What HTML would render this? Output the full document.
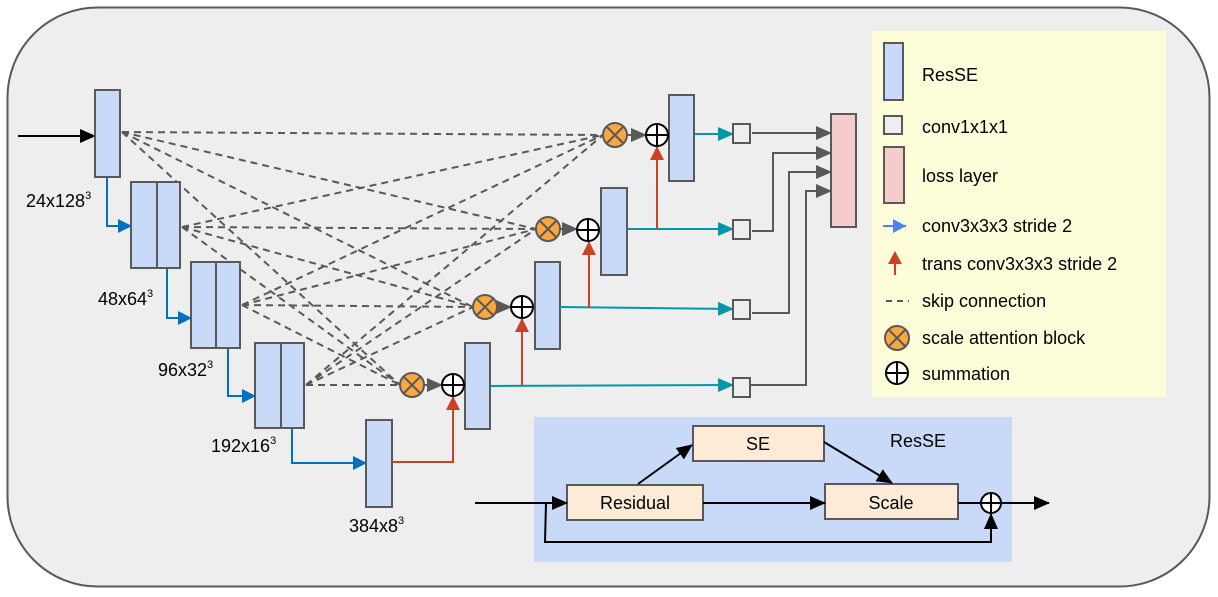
<!DOCTYPE html>
<html><head><meta charset="utf-8"><style>
html,body{margin:0;padding:0;background:#fff;}
svg{display:block;}
text{font-family:"Liberation Sans",Arial,sans-serif;fill:#000;}
</style></head><body>
<svg width="1218" height="597" viewBox="0 0 1218 597" xmlns="http://www.w3.org/2000/svg">
<defs>
<marker id="ab" markerWidth="10" markerHeight="10" refX="9" refY="5" orient="auto" markerUnits="userSpaceOnUse"><path d="M0,0 L10,5 L0,10 z" fill="#000"/></marker>
<marker id="abig" markerWidth="16" markerHeight="14" refX="15" refY="7" orient="auto" markerUnits="userSpaceOnUse"><path d="M0,0 L16,7 L0,14 z" fill="#000"/></marker>
<marker id="ablue" markerWidth="14" markerHeight="14" refX="13" refY="7" orient="auto" markerUnits="userSpaceOnUse"><path d="M0,0 L14,7 L0,14 z" fill="#0070c0"/></marker>
<marker id="ateal" markerWidth="16" markerHeight="14" refX="15" refY="7" orient="auto" markerUnits="userSpaceOnUse"><path d="M0,0 L16,7 L0,14 z" fill="#0097a7"/></marker>
<marker id="ared" markerWidth="14" markerHeight="14" refX="13" refY="7" orient="auto" markerUnits="userSpaceOnUse"><path d="M0,0 L14,7 L0,14 z" fill="#cc4125"/></marker>
<marker id="agray" markerWidth="16" markerHeight="14" refX="15" refY="7" orient="auto" markerUnits="userSpaceOnUse"><path d="M0,0 L16,7 L0,14 z" fill="#595959"/></marker>
</defs>
<rect x="7.5" y="7.5" width="1202" height="579" rx="90" fill="#eeeeee" stroke="#595959" stroke-width="2"/>

<!-- skip connections -->
<g stroke="#595959" stroke-width="2" stroke-dasharray="7,5" fill="none">
<line x1="122" y1="132" x2="603" y2="135"/><line x1="122" y1="132" x2="536" y2="229"/><line x1="122" y1="132" x2="473" y2="307"/><line x1="122" y1="132" x2="400" y2="385"/>
<line x1="182" y1="227" x2="603" y2="135"/><line x1="182" y1="227" x2="536" y2="229"/><line x1="182" y1="227" x2="473" y2="307"/><line x1="182" y1="227" x2="400" y2="385"/>
<line x1="242" y1="305" x2="603" y2="135"/><line x1="242" y1="305" x2="536" y2="229"/><line x1="242" y1="305" x2="473" y2="307"/><line x1="242" y1="305" x2="400" y2="385"/>
<line x1="306" y1="385" x2="603" y2="135"/><line x1="306" y1="385" x2="536" y2="229"/><line x1="306" y1="385" x2="473" y2="307"/><line x1="306" y1="385" x2="400" y2="385"/>
</g>

<!-- input -->
<line x1="18" y1="136" x2="95" y2="136" stroke="#000" stroke-width="2" marker-end="url(#abig)"/>

<!-- encoder blocks -->
<g fill="#c9daf8" stroke="#595959" stroke-width="2">
<rect x="95" y="90" width="25" height="87"/>
<rect x="131" y="182" width="49" height="86"/><line x1="157" y1="182" x2="157" y2="268"/>
<rect x="191" y="262" width="49" height="86"/><line x1="216" y1="262" x2="216" y2="348"/>
<rect x="255" y="343" width="49" height="85"/><line x1="281" y1="343" x2="281" y2="428"/>
<rect x="366" y="420" width="26" height="87"/>
<rect x="669" y="95" width="25" height="86"/>
<rect x="601" y="188" width="26" height="87"/>
<rect x="535" y="262" width="25" height="87"/>
<rect x="465" y="343" width="25" height="86"/>
</g>

<!-- blue downsampling -->
<g stroke="#0070c0" stroke-width="2" fill="none">
<polyline points="107,178 107,226 131,226" marker-end="url(#ablue)"/>
<polyline points="167,269 167,318 191,318" marker-end="url(#ablue)"/>
<polyline points="228,349 228,396 255,396" marker-end="url(#ablue)"/>
<polyline points="292,429 292,463 366,463" marker-end="url(#ablue)"/>
</g>

<!-- labels -->
<g font-size="18">
<text x="26" y="207">24x128<tspan font-size="11" dy="-8">3</tspan></text>
<text x="98" y="305">48x64<tspan font-size="11" dy="-8">3</tspan></text>
<text x="158" y="376">96x32<tspan font-size="11" dy="-8">3</tspan></text>
<text x="211" y="452">192x16<tspan font-size="11" dy="-8">3</tspan></text>
<text x="349" y="532">384x8<tspan font-size="11" dy="-8">3</tspan></text>
</g>

<!-- teal lines -->
<g stroke="#0097a7" stroke-width="2" fill="none">
<line x1="694" y1="134" x2="733" y2="134" marker-end="url(#ateal)"/>
<line x1="627" y1="229" x2="733" y2="229" marker-end="url(#ateal)"/>
<line x1="560" y1="307" x2="733" y2="309" marker-end="url(#ateal)"/>
<line x1="490" y1="386" x2="733" y2="385" marker-end="url(#ateal)"/>
</g>

<!-- red upsampling -->
<g stroke="#cc4125" stroke-width="2" fill="none">
<polyline points="392,462 453,462 453,397" marker-end="url(#ared)"/>
<line x1="522" y1="385" x2="522" y2="319" marker-end="url(#ared)"/>
<line x1="589" y1="308" x2="589" y2="242" marker-end="url(#ared)"/>
<line x1="657" y1="229" x2="657" y2="147" marker-end="url(#ared)"/>
</g>

<!-- attention & sum -->
<g>
<g stroke="#595959" stroke-width="2" fill="none">
<line x1="627" y1="135" x2="646" y2="135" marker-end="url(#agray)"/>
<line x1="560" y1="229" x2="577" y2="229" marker-end="url(#agray)"/>
<line x1="497" y1="307" x2="511" y2="307" marker-end="url(#agray)"/>
<line x1="424" y1="385" x2="442" y2="385" marker-end="url(#agray)"/>
</g>
<g id="att">
<circle cx="615" cy="135" r="12" fill="#f9a73e" stroke="#595959" stroke-width="2"/>
<path d="M607,127 L623,143 M623,127 L607,143" stroke="#595959" stroke-width="2"/>
<circle cx="548" cy="229" r="12" fill="#f9a73e" stroke="#595959" stroke-width="2"/>
<path d="M540,221 L556,237 M556,221 L540,237" stroke="#595959" stroke-width="2"/>
<circle cx="485" cy="307" r="12" fill="#f9a73e" stroke="#595959" stroke-width="2"/>
<path d="M477,299 L493,315 M493,299 L477,315" stroke="#595959" stroke-width="2"/>
<circle cx="412" cy="385" r="12" fill="#f9a73e" stroke="#595959" stroke-width="2"/>
<path d="M404,377 L420,393 M420,377 L404,393" stroke="#595959" stroke-width="2"/>
</g>
<g fill="#fff" stroke="#000" stroke-width="2">
<circle cx="657" cy="135" r="11"/><path d="M646,135 H668 M657,124 V146"/>
<circle cx="588" cy="230" r="11"/><path d="M577,230 H599 M588,219 V241"/>
<circle cx="522" cy="307" r="11"/><path d="M511,307 H533 M522,296 V318"/>
<circle cx="453" cy="385" r="11"/><path d="M442,385 H464 M453,374 V396"/>
</g>
</g>

<!-- conv boxes -->
<g fill="#eeeeee" stroke="#595959" stroke-width="2">
<rect x="733" y="124" width="17" height="19"/>
<rect x="733" y="220" width="17" height="19"/>
<rect x="733" y="300" width="17" height="19"/>
<rect x="733" y="378" width="17" height="19"/>
</g>
<!-- to loss -->
<g stroke="#595959" stroke-width="2" fill="none">
<line x1="752" y1="133" x2="831" y2="133" marker-end="url(#agray)"/>
<polyline points="752,231 773,231 773,153 831,153" marker-end="url(#agray)"/>
<polyline points="752,313 789,313 789,172 831,172" marker-end="url(#agray)"/>
<polyline points="750,385 806,385 806,191 831,191" marker-end="url(#agray)"/>
</g>
<rect x="831" y="114" width="25" height="113" fill="#f4cccc" stroke="#595959" stroke-width="2"/>

<!-- legend -->
<rect x="872" y="31" width="294" height="366" fill="#fdfdd9"/>
<rect x="884" y="43" width="19" height="57" fill="#c9daf8" stroke="#595959" stroke-width="2"/>
<rect x="884" y="116" width="18" height="18" fill="#eeeeee" stroke="#595959" stroke-width="2"/>
<rect x="884" y="147" width="20" height="56" fill="#f4cccc" stroke="#595959" stroke-width="2"/>
<line x1="883" y1="226" x2="906" y2="226" stroke="#4a86e8" stroke-width="2"/><path d="M893,219 L906,226 L893,233 z" fill="#4a86e8"/>
<line x1="895" y1="275" x2="895" y2="262" stroke="#cc4125" stroke-width="2"/><path d="M888,264 L895,251 L902,264 z" fill="#cc4125"/>
<line x1="886" y1="301" x2="909" y2="301" stroke="#595959" stroke-width="2" stroke-dasharray="6,5"/>
<circle cx="897" cy="338" r="12" fill="#f9a73e" stroke="#595959" stroke-width="2"/>
<path d="M889,330 L905,346 M905,330 L889,346" stroke="#595959" stroke-width="2"/>
<circle cx="897" cy="373" r="11" fill="#fff" stroke="#000" stroke-width="2"/><path d="M886,373 H908 M897,362 V384" stroke="#000" stroke-width="2"/>
<g font-size="18">
<text x="922" y="81">ResSE</text>
<text x="922" y="133">conv1x1x1</text>
<text x="922" y="182">loss layer</text>
<text x="922" y="232">conv3x3x3 stride 2</text>
<text x="922" y="270">trans conv3x3x3 stride 2</text>
<text x="922" y="307">skip connection</text>
<text x="922" y="344">scale attention block</text>
<text x="922" y="380">summation</text>
</g>

<!-- ResSE detail -->
<rect x="534" y="417" width="478" height="145" fill="#c9daf8"/>
<text x="890" y="447" font-size="18">ResSE</text>
<g fill="#fdebd7" stroke="#595959" stroke-width="2">
<rect x="693" y="426" width="131" height="35"/>
<rect x="567" y="485" width="136" height="35"/>
<rect x="825" y="484" width="133" height="35"/>
</g>
<g font-size="18" text-anchor="middle">
<text x="758" y="450">SE</text>
<text x="635" y="509">Residual</text>
<text x="891" y="509">Scale</text>
</g>
<g stroke="#000" stroke-width="2" fill="none">
<line x1="475" y1="503" x2="567" y2="503" marker-end="url(#abig)"/>
<polyline points="546,503 545,542 991,542 991,514" marker-end="url(#abig)"/>
<line x1="703" y1="503" x2="825" y2="503" marker-end="url(#abig)"/>
<line x1="638" y1="484" x2="692" y2="445" marker-end="url(#abig)"/>
<line x1="824" y1="442" x2="892" y2="483" marker-end="url(#abig)"/>
<line x1="958" y1="503" x2="980" y2="503"/>
<line x1="1001" y1="503" x2="1049" y2="503" marker-end="url(#abig)"/>
</g>
<circle cx="991" cy="503" r="10" fill="#fff" stroke="#000" stroke-width="2"/>
<path d="M981,503 H1001 M991,493 V513" stroke="#000" stroke-width="2"/>
</svg>
</body></html>
